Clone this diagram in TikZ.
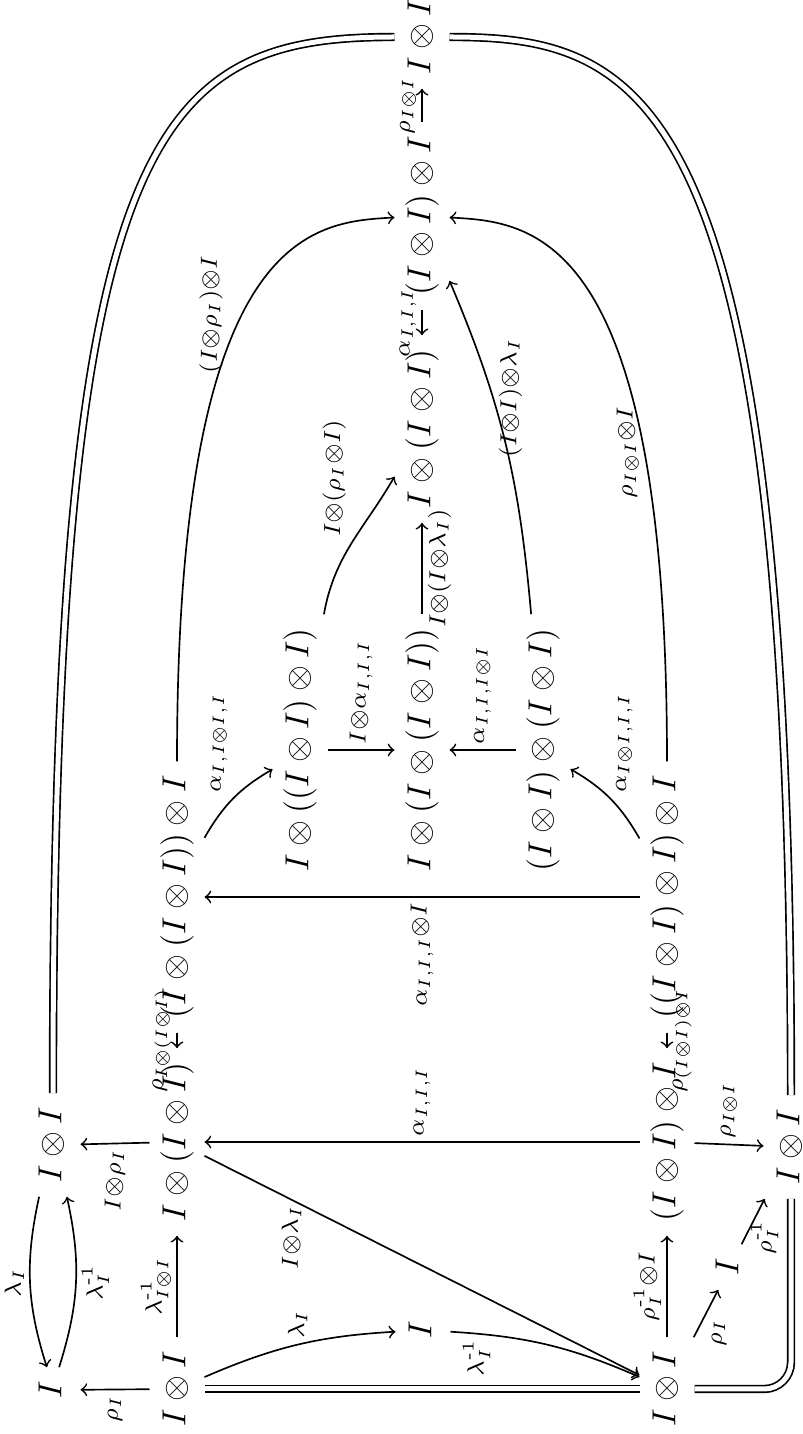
\documentclass[tikz,border=0pt]{standalone}
\usepackage{amsmath}
\usepackage{amsfonts}
\usepackage{tikz}

\tikzset{
  obj/.style={text height=7.5pt, text depth=2.5pt, inner xsep=4pt, inner ysep=3pt},
  lbl/.style={inner sep=1.5pt, execute at begin node=$\scriptstyle, execute at end node=$},
  eq/.style={double, double distance=1.5pt},
}

\begin{document}
\begin{tikzpicture}[>=to, line width=0.5pt, x=0.3pt, y=0.3pt, rotate=90, transform shape]
		\useasboundingbox (0,0) rectangle (1434,-803);

		% 1. Objects, row by row
		\node[obj] (a1) at (44,-53) {$I$};
		\node[obj] (a2) at (289,-53) {$I\otimes I$};
		\node[obj] (b1) at (45,-177) {$I\otimes I$};
		\node[obj] (b2) at (292,-177) {$I\otimes(I\otimes I)$};
		\node[obj] (b3) at (537,-177) {$(I\otimes(I\otimes I))\otimes I$};
		\node[obj] (c1) at (684,-300) {$I\otimes((I\otimes I)\otimes I)$};
		\node[obj] (d0) at (104,-423) {$I$};
		\node[obj] (d1) at (684,-422) {$I\otimes(I\otimes(I\otimes I))$};
		\node[obj] (d2) at (1005,-422) {$I\otimes(I\otimes I)$};
		\node[obj] (d3) at (1218,-422) {$(I\otimes I)\otimes I$};
		\node[obj] (d4) at (1397,-422) {$I\otimes I$};
		\node[obj] (e1) at (684,-543) {$(I\otimes I)\otimes(I\otimes I)$};
		\node[obj] (f1) at (45,-667) {$I\otimes I$};
		\node[obj] (f2) at (292,-667) {$(I\otimes I)\otimes I$};
		\node[obj] (f3) at (537,-667) {$((I\otimes I)\otimes I)\otimes I$};
		\node[obj] (g0) at (167,-730) {$I$};
		\node[obj] (g1) at (287,-791) {$I\otimes I$};

		% 2. Left part: unit maps
		\draw[->] (a2) to[bend right=15] node[lbl, above] {\lambda_I} (a1);
		\draw[->] (a1) to[bend right=15] node[lbl, below] {\lambda^{\text{-}1}_I} (a2);
		\draw[->] (b1) -- node[lbl, left] {\rho_I} (a1);
		\draw[->] (b2) -- node[lbl, left] {I\otimes\rho_I} (a2);
		\draw[->] (b1) -- node[lbl, above] {\lambda^{\text{-}1}_{I\otimes I}} (b2);
		\draw[->] (b3) -- node[lbl, above] {\rho_{I\otimes(I\otimes I)}} (b2);
		\draw[->] (b1) to[bend left=10] node[lbl, right] {\lambda_I} (d0);
		\draw[->] (d0) to[bend left=10] node[lbl, pos=0.12, left] {\lambda^{\text{-}1}_I} (f1);
		\draw[->] (b2) -- node[lbl, pos=0.2, left] {I\otimes\lambda_I} (f1);
		\draw[eq] (b1) -- (f1);
		\draw[->] (f2) -- node[lbl, right] {\alpha_{I,I,I}} (b2);
		\draw[->] (f3) -- node[lbl, left] {\alpha_{I,I,I}\otimes I} (b3);

		% 3. Bottom row
		\draw[->] (f1) -- node[lbl, above] {\rho^{\text{-}1}_I\otimes I} (f2);
		\draw[->] (f3) -- node[lbl, below] {\rho_{(I\otimes I)\otimes I}} (f2);
		\draw[->] (f2) -- node[lbl, right] {\rho_{I\otimes I}} (g1);
		\draw[->] (f1) -- node[lbl, below left] {\rho_I} (g0);
		\draw[->] (g0) -- node[lbl, pos=0.15, below] {\rho^{\text{-}1}_I} (g1);
		\draw[eq, rounded corners=8pt] (f1) |- (g1);

		% 4. Pentagon in the middle
		\draw[->] (b3) to[bend left=15] node[lbl, above right] {\alpha_{I,I\otimes I,I}} (c1);
		\draw[->] (f3) to[bend right=15] node[lbl, below right] {\alpha_{I\otimes I,I,I}} (e1);
		\draw[->] (c1) -- node[lbl, right] {I\otimes\alpha_{I,I,I}} (d1);
		\draw[->] (e1) -- node[lbl, right] {\alpha_{I,I,I\otimes I}} (d1);
		\draw[->] (d1) -- node[lbl, below] {I\otimes(I\otimes\lambda_I)} (d2);
		\draw[->] (c1) to[out=-10, in=150] node[lbl, above right] {I\otimes(\rho_I\otimes I)} (d2);
		\draw[->] (e1) to[out=5, in=203] node[lbl, pos=0.65, below] {(I\otimes I)\otimes\lambda_I} (d3);
		\draw[->] (d3) -- node[lbl, above] {\alpha_{I,I,I}} (d2);
		\draw[->] (d3) -- node[lbl, above] {\rho_{I\otimes I}} (d4);

		% 5. Long arcs round the outside
		\draw[->] (b3) .. controls (1204,-177) and (1212,-312) .. node[lbl, pos=0.45, above=4pt] {(I\otimes\rho_I)\otimes I} (d3);
		\draw[->] (f3) .. controls (1204,-667) and (1212,-532) .. node[lbl, pos=0.25, above] {\rho_{I\otimes I}\otimes I} (d3);
		\draw[eq] (a2) .. controls (1305,-53) and (1397,-153) .. (d4);
		\draw[eq] (g1) .. controls (1341,-791) and (1397,-647) .. (d4);
	\end{tikzpicture}
\end{document}
